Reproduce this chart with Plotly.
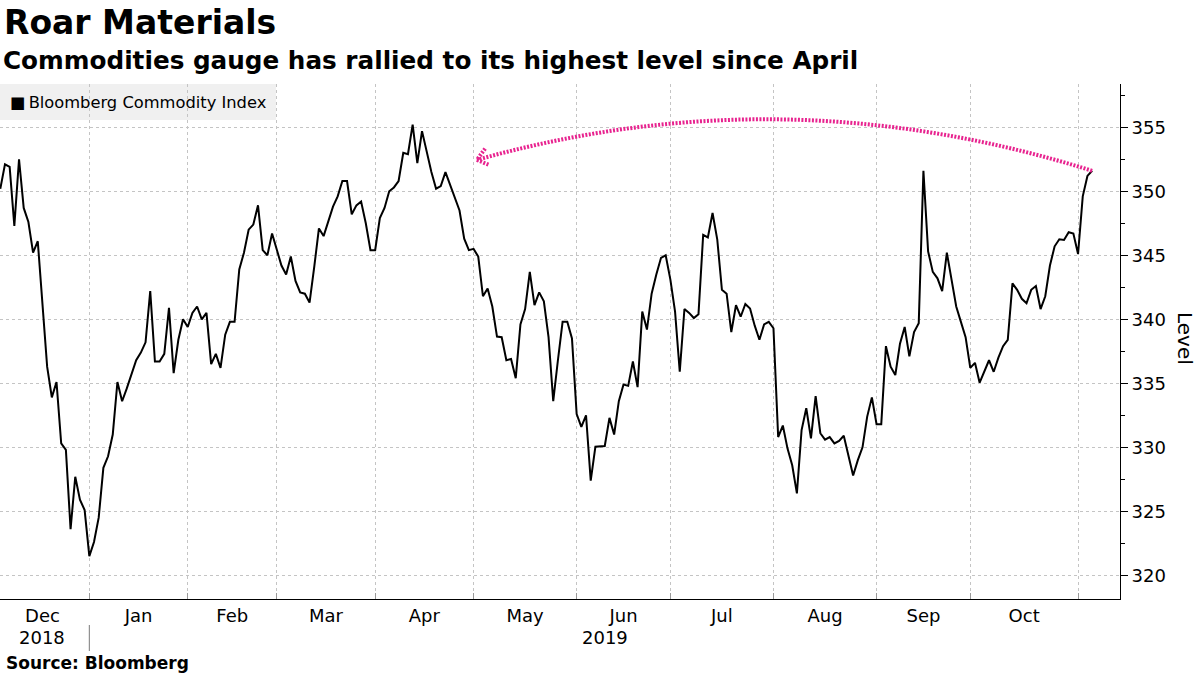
import plotly.graph_objects as go
import pandas as pd
import math

# ---------------- data ----------------
dec_2018 = [350.2, 352.1, 351.9, 347.3, 352.5, 348.7, 347.6, 345.2, 346.1, 340.8,
            336.3, 333.9, 335.1, 330.3, 329.8, 323.6, 327.7, 325.9, 325.1, 321.5]
jan_2019 = [322.6, 324.5, 328.4, 329.3, 331.0, 335.1, 333.6, 334.6, 335.8, 336.8,
            337.4, 338.2, 342.2, 336.7, 336.7, 337.3, 340.9, 335.8, 338.4, 340.0, 339.4]
feb_2019 = [340.5, 341.0, 340.0, 340.5, 336.5, 337.3, 336.2, 338.8, 339.8, 339.8,
            343.9, 345.2, 347.0, 347.4, 348.9, 345.4, 345.0, 346.7, 345.5]
mar_2019 = [344.2, 343.5, 344.9, 343.0, 342.1, 342.0, 341.3, 344.1, 347.1, 346.5,
            347.6, 348.8, 349.6, 350.8, 350.8, 348.2, 348.9, 349.2, 347.5, 345.4, 345.4]
apr_2019 = [347.9, 348.7, 350.0, 350.3, 350.8, 353.0, 352.9, 355.2, 352.2, 354.7,
            353.0, 351.5, 350.2, 350.4, 351.5, 350.5, 349.4, 348.5, 346.3, 345.4, 345.5]
may_2019 = [344.9, 341.8, 342.4, 341.0, 338.65, 338.6, 336.8, 336.9, 335.4, 339.6,
            340.8, 343.7, 341.1, 342.1, 341.4, 338.6, 333.6, 336.8, 339.8, 339.8,
            338.5, 332.6]
jun_2019 = [331.6, 332.5, 327.4, 330.05, 330.1, 330.1, 332.3, 331.0, 333.6, 334.9,
            334.8, 336.7, 334.7, 340.6, 339.2, 342.0, 343.5, 344.8, 345.0, 343.1]
jul_2019 = [340.6, 335.9, 340.8, 340.5, 340.1, 340.4, 346.6, 346.4, 348.3, 346.25,
            342.3, 342.0, 339.0, 341.1, 340.2, 341.2, 340.85, 339.5, 338.4, 339.6,
            339.8, 339.3]
aug_2019 = [330.8, 331.7, 329.9, 328.6, 326.4, 331.35, 333.05, 330.7, 334.0, 331.1,
            330.6, 330.8, 330.3, 330.5, 330.9, 329.3, 327.8, 329.0, 330.0, 332.4,
            333.9, 331.8]
sep_2019 = [331.8, 337.9, 336.3, 335.65, 338.1, 339.4, 337.1, 339.0, 339.7, 351.6,
            345.3, 343.7, 343.2, 342.2, 345.2, 343.1, 341.0, 339.8, 338.6, 336.2]
oct_2019 = [336.6, 335.05, 335.9, 336.8, 335.9, 337.0, 337.9, 338.4, 342.8, 342.3,
            341.6, 341.25, 342.3, 342.6, 340.8, 341.8, 344.2, 345.7, 346.25, 346.2,
            346.8, 346.7, 345.1]
nov_2019 = [349.6, 351.2, 351.6]

SERIES_NAME = "Bloomberg Commodity Index"
MONTH_LABELS = ["Dec", "Jan", "Feb", "Mar", "Apr", "May", "Jun", "Jul", "Aug", "Sep", "Oct"]
YEAR_LABELS = ["2018", "2019"]
Y_TICKS = [320, 325, 330, 335, 340, 345, 350, 355]
HOLIDAYS = ["2018-12-25", "2019-01-01", "2019-01-21", "2019-02-18", "2019-04-19",
            "2019-05-27", "2019-07-04", "2019-09-02"]

values = (dec_2018 + jan_2019 + feb_2019 + mar_2019 + apr_2019 + may_2019 +
          jun_2019 + jul_2019 + aug_2019 + sep_2019 + oct_2019 + nov_2019)
dates = pd.bdate_range("2018-12-03", "2019-11-05", freq="C", holidays=HOLIDAYS)
n = min(len(dates), len(values))
values = values[:n]
dates = dates[:n]
idx = list(range(n))

# month boundaries on the trading-day axis (at the previous month's last session)
periods = dates.to_period("M")
first_of = {}
for i, p in enumerate(periods):
    first_of.setdefault(p, i)
month_keys = list(first_of.keys())
boundaries = [first_of[p] - 1 for p in month_keys]
label_pos = [(boundaries[k] + boundaries[k + 1]) / 2 for k in range(len(MONTH_LABELS))]

X_RANGE = [-0.06, n - 1 + 5.95]
Y_RANGE = [318.15, 358.38]

# ---------------- layout geometry ----------------
W, H = 1200, 675
ML, MR, MT, MB = 0, 80, 84, 76
PW, PH = W - ML - MR, H - MT - MB
FONT = "DejaVu Sans"
PINK = "#e8238f"


def px_to_paper_y(py):
    return (H - MB - py) / PH


def px_to_paper_x(px):
    return (px - ML) / PW


def data_to_paper(i, v):
    return ((i - X_RANGE[0]) / (X_RANGE[1] - X_RANGE[0]),
            (v - Y_RANGE[0]) / (Y_RANGE[1] - Y_RANGE[0]))


fig = go.Figure()
fig.add_trace(go.Scatter(
    x=idx, y=values, mode="lines", name=SERIES_NAME,
    line=dict(color="#000000", width=2),
    customdata=[d.strftime("%b %d, %Y") for d in dates],
    hovertemplate="%{customdata}: %{y:.2f}<extra></extra>",
    showlegend=False,
))

grid = "#c4c4c4"
fig.update_layout(
    width=W, height=H,
    margin=dict(l=ML, r=MR, t=MT, b=MB, autoexpand=False),
    paper_bgcolor="white", plot_bgcolor="white",
    font=dict(family=FONT, color="#000000"),
    xaxis=dict(
        range=X_RANGE, showgrid=False, zeroline=False,
        tickmode="array", tickvals=label_pos, ticktext=MONTH_LABELS,
        ticks="", tickfont=dict(size=18, family=FONT, color="#000"),
        showline=True, linecolor="#000", linewidth=1,
        minor=dict(tickmode="array", tickvals=boundaries, ticks="inside",
                   ticklen=6, tickcolor="#9a9a9a", tickwidth=1,
                   showgrid=True, gridcolor=grid, griddash="dot", gridwidth=1),
        fixedrange=True,
    ),
    yaxis=dict(
        range=Y_RANGE, side="right", tickmode="array", tickvals=Y_TICKS,
        ticks="outside", ticklen=7, tickcolor="#000", tickwidth=1,
        tickfont=dict(size=18, family=FONT, color="#000"),
        showline=True, linecolor="#000", linewidth=1,
        showgrid=True, gridcolor=grid, griddash="dot", gridwidth=1,
        zeroline=False,
        minor=dict(dtick=2.5, tick0=0, ticks="outside", ticklen=4,
                   tickcolor="#000", showgrid=False),
        fixedrange=True,
    ),
)

shapes = []
# legend background box
shapes.append(dict(type="rect", xref="paper", yref="paper", layer="below",
                   x0=px_to_paper_x(0), x1=px_to_paper_x(276),
                   y0=px_to_paper_y(120), y1=px_to_paper_y(MT),
                   fillcolor="#f0f0f0", line=dict(width=0)))
# year separator
bx, _ = data_to_paper(boundaries[1], Y_RANGE[0])
shapes.append(dict(type="line", xref="paper", yref="paper",
                   x0=bx, x1=bx, y0=px_to_paper_y(625), y1=px_to_paper_y(651),
                   line=dict(color="#7a7a7a", width=1)))

# curved pink arrow from the latest value back toward the April level
sx, sy = data_to_paper(idx[-1], values[-1])
ARROW_TIP = (101.7, 352.45)
ARROW_CTRL = (167.0, 359.2)
tx, ty = data_to_paper(*ARROW_TIP)
cx, cy = data_to_paper(*ARROW_CTRL)
shapes.append(dict(type="path", xref="paper", yref="paper",
                   path=f"M {sx},{sy} Q {cx},{cy} {tx},{ty}",
                   line=dict(color=PINK, width=4, dash="2px,1.5px")))
# arrow head (in pixel space)
tpx, tpy = tx * PW, ty * PH
cpx, cpy = cx * PW, cy * PH
ang = math.atan2(cpy - tpy, cpx - tpx)
barbs = []
for d in (math.radians(38), -math.radians(38)):
    bxp = tpx + 14 * math.cos(ang + d)
    byp = tpy + 14 * math.sin(ang + d)
    barbs.append((bxp / PW, byp / PH))
shapes.append(dict(type="path", xref="paper", yref="paper",
                   path=f"M {barbs[0][0]},{barbs[0][1]} L {tx},{ty} L {barbs[1][0]},{barbs[1][1]}",
                   line=dict(color=PINK, width=4, dash="2px,1.5px")))
fig.update_layout(shapes=shapes)

ann = []
ann.append(dict(text="<b>Roar Materials</b>", xref="paper", yref="paper",
                x=px_to_paper_x(2), y=px_to_paper_y(22), xanchor="left", yanchor="middle",
                showarrow=False, font=dict(size=33, family=FONT, color="#000")))
ann.append(dict(text="<b>Commodities gauge has rallied to its highest level since April</b>",
                xref="paper", yref="paper",
                x=px_to_paper_x(1), y=px_to_paper_y(60), xanchor="left", yanchor="middle",
                showarrow=False, font=dict(size=24.7, family=FONT, color="#000")))
ann.append(dict(text="\u25a0\u2009" + SERIES_NAME, xref="paper", yref="paper",
                x=px_to_paper_x(8), y=px_to_paper_y(102), xanchor="left", yanchor="middle",
                showarrow=False, font=dict(size=16.3, family=FONT, color="#000")))
ann.append(dict(text="Level", xref="paper", yref="paper", textangle=90,
                x=px_to_paper_x(1185), y=px_to_paper_y(338), xanchor="center", yanchor="middle",
                showarrow=False, font=dict(size=20, family=FONT, color="#000")))
# year labels
yr18_x, _ = data_to_paper(label_pos[0], Y_RANGE[0])
yr19_x, _ = data_to_paper((boundaries[1] + X_RANGE[1]) / 2, Y_RANGE[0])
for lab, xp in zip(YEAR_LABELS, [yr18_x, yr19_x]):
    ann.append(dict(text=lab, xref="paper", yref="paper", x=xp, y=px_to_paper_y(637),
                    xanchor="center", yanchor="middle", showarrow=False,
                    font=dict(size=18, family=FONT, color="#000")))
ann.append(dict(text="<b>Source: Bloomberg</b>", xref="paper", yref="paper",
                x=px_to_paper_x(4), y=px_to_paper_y(663), xanchor="left", yanchor="middle",
                showarrow=False, font=dict(size=17, family=FONT, color="#000")))
fig.update_layout(annotations=ann)

fig.write_html("out.html", config={"displayModeBar": False},
               post_script="document.body.style.margin='0px';")
